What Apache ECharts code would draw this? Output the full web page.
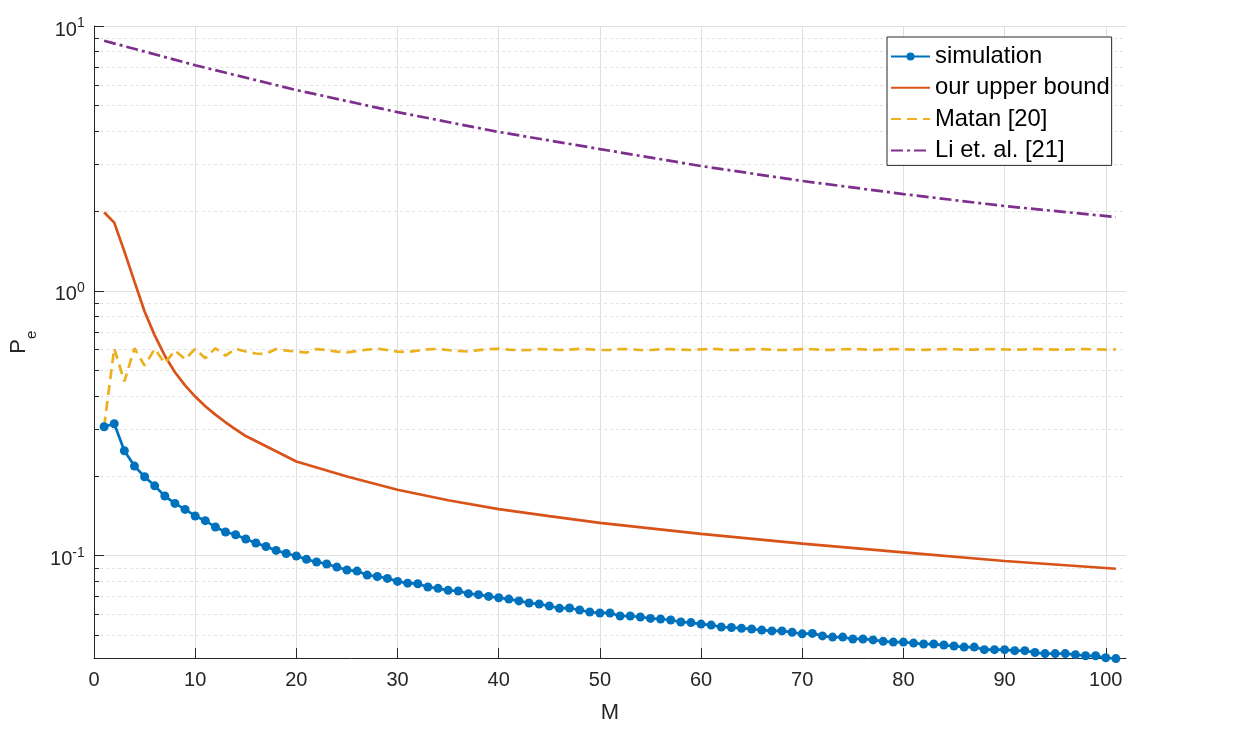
<!DOCTYPE html>
<html>
<head>
<meta charset="utf-8">
<title>Pe vs M</title>
<script src="https://cdn.jsdelivr.net/npm/echarts@6/dist/echarts.min.js"></script>
<style>
  html, body { margin: 0; padding: 0; background: #fff; }
  #chart { width: 1252px; height: 731px; }
</style>
</head>
<body>
<div id="chart"></div>
<script>
// x values of the simulated points (M = 1..101)
const M = Array.from({ length: 101 }, (_, i) => i + 1);

// simulation, one value per M
const SIM = [
  0.307, 0.315, 0.249, 0.218, 0.1986, 0.1836, 0.168, 0.1576, 0.1496, 0.1413,
  0.1356, 0.1283, 0.1229, 0.120, 0.1156, 0.1117, 0.1084, 0.1047, 0.102, 0.0998,
  0.0969, 0.0947, 0.0931, 0.0906, 0.0883, 0.0875, 0.0845, 0.0835, 0.0821, 0.080,
  0.0788, 0.0784, 0.0762, 0.0753, 0.0740, 0.0736, 0.0719, 0.0713, 0.0702, 0.0694,
  0.0686, 0.0675, 0.0663, 0.0657, 0.0646, 0.0633, 0.0635, 0.0624, 0.0613, 0.0608,
  0.0608, 0.0592, 0.0592, 0.0587, 0.0580, 0.0577, 0.0572, 0.0562, 0.0559, 0.0552,
  0.0547, 0.0538, 0.0536, 0.0532, 0.0529, 0.0524, 0.0520, 0.0520, 0.0514, 0.0507,
  0.0509, 0.0498, 0.0493, 0.0493, 0.0485, 0.0485, 0.0481, 0.0475, 0.0472, 0.0472,
  0.0468, 0.0464, 0.0464, 0.0460, 0.0456, 0.0452, 0.0452, 0.0442, 0.0442, 0.0442,
  0.0438, 0.0438, 0.0431, 0.0427, 0.0427, 0.0427, 0.0423, 0.0419, 0.0419, 0.0412,
  0.0409
];

// Matan [20], one value per M
const MATAN = [
  0.307, 0.607, 0.455, 0.607, 0.522, 0.604, 0.533, 0.596, 0.552, 0.604,
  0.557, 0.607, 0.569, 0.604, 0.590, 0.580, 0.578, 0.603, 0.595, 0.590,
  0.585, 0.603, 0.598, 0.590, 0.586, 0.593, 0.600, 0.604, 0.598, 0.590,
  0.588, 0.595, 0.601, 0.604, 0.598, 0.593, 0.590, 0.597, 0.602, 0.604,
  0.600, 0.597, 0.598, 0.603, 0.601, 0.598, 0.600, 0.604, 0.601, 0.598,
  0.599, 0.603, 0.602, 0.598, 0.598, 0.602, 0.603, 0.600, 0.598, 0.601,
  0.604, 0.601, 0.598, 0.599, 0.603, 0.603, 0.600, 0.598, 0.600, 0.603,
  0.602, 0.599, 0.599, 0.602, 0.603, 0.601, 0.599, 0.600, 0.603, 0.602,
  0.600, 0.599, 0.601, 0.603, 0.602, 0.600, 0.600, 0.602, 0.603, 0.601,
  0.600, 0.601, 0.603, 0.602, 0.600, 0.600, 0.602, 0.603, 0.601, 0.600,
  0.601
];

// our upper bound, read at these M
const BOUND_M = [1, 2, 3, 4, 5, 6, 7, 8, 9, 10, 11, 12, 13, 14, 15, 20, 25, 30, 35, 40, 45, 50, 60, 70, 80, 90, 101];
const BOUND_PE = [1.98, 1.81, 1.41, 1.084, 0.836, 0.679, 0.569, 0.493, 0.4395, 0.399, 0.367, 0.341, 0.319, 0.300, 0.283,
  0.227, 0.199, 0.1774, 0.162, 0.150, 0.141, 0.133, 0.121, 0.111, 0.103, 0.0955, 0.0893];

// Li et. al. [21], read at these M
const LI_M = [1, 10, 20, 30, 40, 50, 60, 70, 80, 90, 101];
const LI_PE = [8.8, 7.11, 5.73, 4.73, 3.98, 3.43, 2.96, 2.6, 2.32, 2.09, 1.90];

// axes
const X_MIN = 0, X_MAX = 102;
const X_TICKS = [0, 10, 20, 30, 40, 50, 60, 70, 80, 90, 100];
const Y_MIN = 0.0411, Y_MAX = 10;
const Y_DECADES = [-1, 0, 1];
const Y_MINOR_MULT = [2, 3, 4, 5, 6, 7, 8, 9];

const lg = Math.log10;
const yLo = lg(Y_MIN), yHi = lg(Y_MAX);

// minor ticks at k * 10^n (log positions)
const yMinor = [];
[-2, -1, 0].forEach(function (e) {
  Y_MINOR_MULT.forEach(function (k) {
    const v = lg(k) + e;
    if (v > yLo && v < yHi) yMinor.push(v);
  });
});

const AX = '#262626';
const FONT = 'Liberation Sans, Arial, Helvetica, sans-serif';
const LW = 2.7;

const chart = echarts.init(document.getElementById('chart'), null, { renderer: 'canvas' });

chart.setOption({
  animation: false,
  backgroundColor: '#fff',
  textStyle: { fontFamily: FONT, color: AX },
  grid: { left: 93, top: 26, right: 126, bottom: 73, containLabel: false },
  legend: {
    orient: 'vertical',
    left: 887,
    top: 37,
    padding: [7.5, 2, 3, 3],
    itemGap: 7.3,
    itemWidth: 39,
    itemHeight: 10,
    borderColor: AX,
    borderWidth: 1,
    backgroundColor: '#fff',
    textStyle: { fontSize: 23.8, color: '#000', fontFamily: FONT },
    data: [
      { name: 'simulation' },
      { name: 'our upper bound', itemStyle: { opacity: 0, borderWidth: 0 } },
      { name: 'Matan [20]', itemStyle: { opacity: 0, borderWidth: 0 } },
      { name: 'Li et. al. [21]', itemStyle: { opacity: 0, borderWidth: 0 } }
    ]
  },
  xAxis: {
    type: 'value',
    min: X_MIN,
    max: X_MAX,
    name: 'M',
    nameLocation: 'middle',
    nameGap: 44,
    nameTextStyle: { fontSize: 22, color: AX },
    axisLine: { show: true, onZero: false, lineStyle: { color: AX, width: 1 } },
    axisTick: { show: true, inside: true, length: 10, customValues: X_TICKS, lineStyle: { color: AX } },
    axisLabel: { customValues: X_TICKS, fontSize: 20, color: AX, margin: 12 },
    splitLine: { show: true, lineStyle: { color: '#dfdfdf', width: 1 } }
  },
  yAxis: [
    {
      type: 'value',
      min: yLo,
      max: yHi,
      position: 'left',
      name: '{p|P}{e|e}{h| }',
      nameLocation: 'middle',
      nameGap: 55,
      nameTextStyle: {
        color: AX,
        rich: {
          p: { fontSize: 22, lineHeight: 22, verticalAlign: 'top', color: AX, fontFamily: FONT },
          e: { fontSize: 15, lineHeight: 15, verticalAlign: 'bottom', color: AX, fontFamily: FONT },
          h: { fontSize: 1, lineHeight: 31 }
        }
      },
      axisLine: { show: true, onZero: false, lineStyle: { color: AX, width: 1 } },
      axisTick: { show: true, inside: true, length: 10, customValues: Y_DECADES, lineStyle: { color: AX } },
      axisLabel: {
        customValues: Y_DECADES,
        margin: 9,
        formatter: function (v) { return '{b|10}{s|' + Math.round(v) + '}{h| }'; },
        rich: {
          b: { fontSize: 20, lineHeight: 20, verticalAlign: 'bottom', color: AX, fontFamily: FONT },
          s: { fontSize: 14, lineHeight: 14, verticalAlign: 'top', padding: [4, 0, 0, 0], color: AX, fontFamily: FONT },
          h: { fontSize: 1, lineHeight: 28 }
        }
      },
      splitLine: { show: true, lineStyle: { color: '#dfdfdf', width: 1 } }
    },
    {
      type: 'value',
      min: yLo,
      max: yHi,
      position: 'left',
      offset: 0,
      axisLine: { show: false, onZero: false },
      axisTick: { show: true, inside: true, length: 5, customValues: yMinor, lineStyle: { color: AX } },
      axisLabel: { show: false },
      splitLine: { show: true, lineStyle: { color: '#e2e2e2', width: 1, type: [3, 3] } }
    }
  ],
  series: [
    {
      name: 'simulation',
      type: 'line',
      yAxisIndex: 0,
      data: M.map(function (m, i) { return [m, lg(SIM[i])]; }),
      symbol: 'circle',
      symbolSize: 9,
      showSymbol: true,
      clip: false,
      lineStyle: { color: '#0072BD', width: LW },
      itemStyle: { color: '#0072BD' }
    },
    {
      name: 'our upper bound',
      type: 'line',
      yAxisIndex: 0,
      data: BOUND_M.map(function (m, i) { return [m, lg(BOUND_PE[i])]; }),
      showSymbol: false,
      lineStyle: { color: '#D95319', width: LW },
      itemStyle: { color: '#D95319' }
    },
    {
      name: 'Matan [20]',
      type: 'line',
      yAxisIndex: 0,
      data: M.map(function (m, i) { return [m, lg(MATAN[i])]; }),
      showSymbol: false,
      lineStyle: { color: '#EDB120', width: LW, type: [10, 6] },
      itemStyle: { color: '#EDB120' }
    },
    {
      name: 'Li et. al. [21]',
      type: 'line',
      yAxisIndex: 0,
      data: LI_M.map(function (m, i) { return [m, lg(LI_PE[i])]; }),
      showSymbol: false,
      lineStyle: { color: '#7E2F8E', width: LW, type: [12, 4, 3, 4] },
      itemStyle: { color: '#7E2F8E' }
    }
  ]
});
</script>
</body>
</html>
